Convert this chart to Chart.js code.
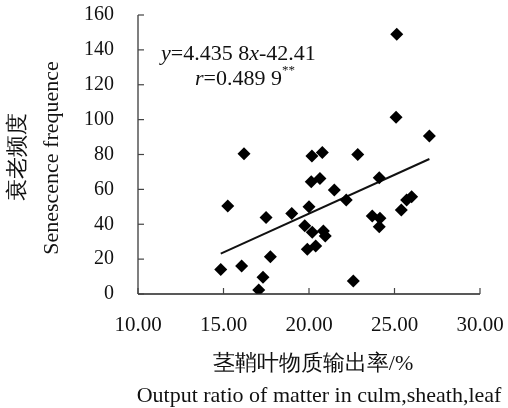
<!DOCTYPE html>
<html><head><meta charset="utf-8">
<script src="https://cdn.jsdelivr.net/npm/chart.js@4/dist/chart.umd.min.js"></script>
<style>html,body{margin:0;padding:0;background:#fff;}canvas{display:block;}</style>
</head><body>
<canvas id="c" width="508" height="408"></canvas>
<script>
// Data
const outputRatio = [14.84,15.25,16.06,16.2,17.06,17.31,17.49,17.74,18.99,19.75,19.9,20.0,20.17,20.13,20.19,20.39,20.64,20.78,20.84,20.95,21.48,22.18,22.59,22.85,23.7,24.11,24.15,24.11,25.4,25.71,26.0,25.13,25.09,27.04];
const senescence = [14,50.5,16,80.5,2.3,9.6,43.8,21.4,46.2,39.2,25.6,50.1,79.1,64.4,35.4,27.5,66.3,81.2,36.1,33.3,59.6,53.9,7.5,80,44.7,66.7,43.4,38.6,48.2,53.9,55.8,148.9,101.3,90.6];
const fitX = [14.84, 27.04];
const fitY = [23.2, 77.4];
const xTicks = [10,15,20,25,30];
const yTicks = [0,20,40,60,80,100,120,140,160];
const yTitleCN = '衰老频度';
const yTitleEN = 'Senescence frequence';
const xTitleCN = '茎鞘叶物质输出率/%';
const xTitleEN = 'Output ratio of matter in culm,sheath,leaf';

const pts = outputRatio.map((x,i)=>({x, y: senescence[i]}));
const fit = fitX.map((x,i)=>({x, y: fitY[i]}));
const FONT = '"Liberation Serif","Times New Roman",serif';
const TFS = 22;

const decor = {
  id:'decor',
  afterDraw(chart){
    const ctx = chart.ctx, xs = chart.scales.x, ys = chart.scales.y, a = chart.chartArea;
    ctx.save();
    // axes
    ctx.lineWidth = 1.5;
    ctx.strokeStyle = '#555';
    ctx.beginPath(); ctx.moveTo(a.left, a.top); ctx.lineTo(a.left, a.bottom); ctx.stroke();
    ctx.strokeStyle = '#222';
    ctx.beginPath(); ctx.moveTo(a.left, a.bottom); ctx.lineTo(a.right, a.bottom); ctx.stroke();
    // inward ticks
    ctx.lineWidth = 1.2;
    ctx.strokeStyle = '#444';
    yTicks.forEach(v=>{ const p = ys.getPixelForValue(v); ctx.beginPath(); ctx.moveTo(a.left, p); ctx.lineTo(a.left+6, p); ctx.stroke(); });
    xTicks.forEach(v=>{ const p = xs.getPixelForValue(v); ctx.beginPath(); ctx.moveTo(p, a.bottom); ctx.lineTo(p, a.bottom-6); ctx.stroke(); });
    // titles
    ctx.fillStyle = '#111';
    ctx.textBaseline = 'middle';
    ctx.textAlign = 'center';
    ctx.font = TFS + 'px ' + FONT;
    ctx.fillText(xTitleCN, 313, 364);
    ctx.fillText(xTitleEN, 319, 396);
    ctx.save(); ctx.translate(52, 158); ctx.rotate(-Math.PI/2); ctx.fillText(yTitleEN, 0, 0); ctx.restore();
    ctx.save(); ctx.translate(18, 157); ctx.rotate(-Math.PI/2); ctx.fillText(yTitleCN, 0, 0); ctx.restore();
    // equation annotation
    ctx.textAlign = 'left';
    const seg = (parts, x, y) => {
      parts.forEach(([t, it, sup])=>{
        ctx.font = (it ? 'italic ' : '') + (sup ? 13 : TFS) + 'px ' + FONT;
        ctx.fillText(t, x, sup ? y - 8 : y);
        x += ctx.measureText(t).width;
      });
    };
    seg([['y',1],['=4.435 8',0],['x',1],['-42.41',0]], 161, 54);
    seg([['r',1],['=0.489 9',0],['**',0,1]], 195, 79);
    ctx.restore();
  }
};

new Chart(document.getElementById('c'), {
  type:'scatter',
  data:{ datasets:[
    { data: pts, pointStyle:'rectRot', radius:6.5, backgroundColor:'#000', borderColor:'#000', borderWidth:0, order:1 },
    { type:'line', data: fit, borderColor:'#111', borderWidth:2, pointRadius:0, fill:false, order:2 }
  ]},
  options:{
    responsive:false, animation:false,
    layout:{ padding:{ left:0, top:15, right:28, bottom:0 } },
    plugins:{ legend:{display:false}, tooltip:{enabled:false} },
    scales:{
      x:{ type:'linear', min:10, max:30, border:{display:false},
          grid:{ display:false, drawTicks:false },
          afterBuildTicks(s){ s.ticks = xTicks.map(v=>({value:v})); },
          afterFit(s){ s.height = 114; s.paddingLeft = 0; s.paddingRight = 0; },
          ticks:{ padding:19, color:'#111', font:{ family:FONT, size:21 }, callback:v=>v.toFixed(2), maxRotation:0, autoSkip:false } },
      y:{ type:'linear', min:0, max:160, border:{display:false},
          grid:{ display:false, drawTicks:false },
          afterBuildTicks(s){ s.ticks = yTicks.map(v=>({value:v})); },
          afterFit(s){ s.width = 138; s.paddingTop = 0; s.paddingBottom = 0; },
          ticks:{ padding:24, color:'#111', font:{ family:FONT, size:20 }, autoSkip:false } }
    }
  },
  plugins:[decor]
});
</script>
</body></html>
